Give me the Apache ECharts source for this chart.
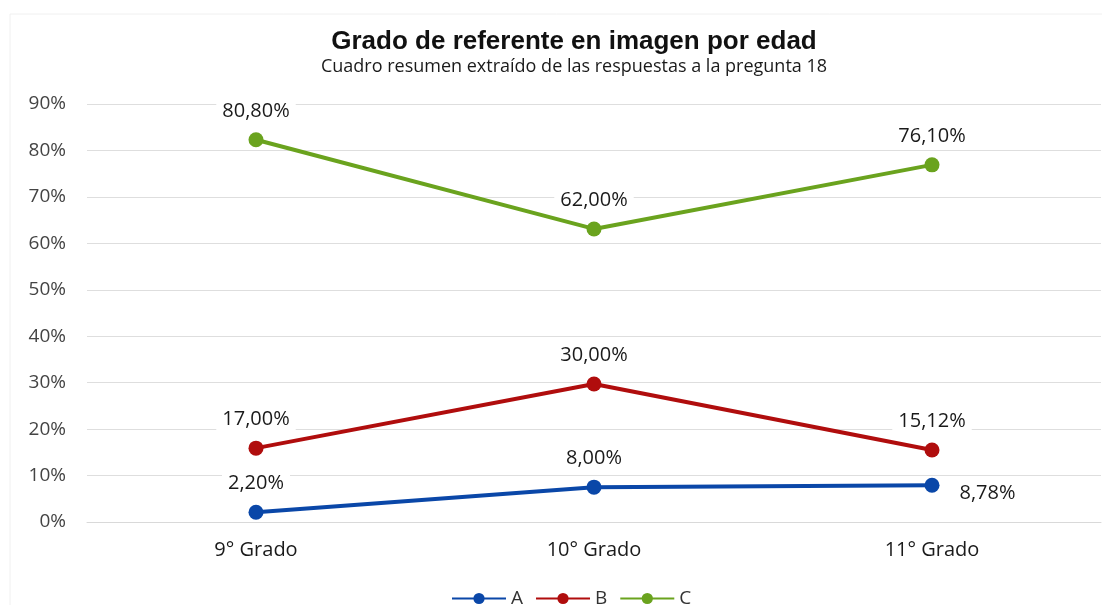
<!DOCTYPE html>
<html>
<head>
<meta charset="utf-8">
<title>Grado de referente en imagen por edad</title>
<script src="https://cdn.jsdelivr.net/npm/echarts@6/dist/echarts.min.js"></script>
<style>
  html, body { margin: 0; padding: 0; background: #fff; }
  #chart { width: 1102px; height: 605px; }
</style>
</head>
<body>
<div id="chart"></div>
<script>
// categorías y valores
const grados = ['9° Grado', '10° Grado', '11° Grado']
const serieA = [2.1, 7.5, 7.9]
const serieB = [15.9, 29.7, 15.5]
const serieC = [82.3, 63.1, 76.9]
// etiquetas tal como aparecen en la imagen
const etiquetasA = ['2,20%', '8,00%', '8,78%']
const etiquetasB = ['17,00%', '30,00%', '15,12%']
const etiquetasC = ['80,80%', '62,00%', '76,10%']
const yTicks = [0, 10, 20, 30, 40, 50, 60, 70, 80, 90]

const chart = echarts.init(document.getElementById('chart'))

const labelStyle = {
  show: true,
  position: 'top',
  distance: 10,
  fontFamily: 'Open Sans',
  fontSize: 20,
  color: '#1a1a1a',
  backgroundColor: '#fff',
  padding: [1, 6]
}

function makeSeries (name, color, values, labels, custom) {
  return {
    name: name,
    type: 'line',
    data: values.map((v, i) => {
      const item = { value: v }
      if (custom && custom[i]) item.label = custom[i]
      return item
    }),
    symbol: 'circle',
    symbolSize: 15,
    lineStyle: { color: color, width: 4 },
    itemStyle: { color: color },
    label: Object.assign({}, labelStyle, {
      formatter: p => labels[p.dataIndex]
    })
  }
}

chart.setOption({
  animation: false,
  graphic: [{
    type: 'rect',
    shape: { x: 10, y: 14, width: 1100, height: 600 },
    style: { fill: 'none', stroke: '#f0f0f0', lineWidth: 1 },
    silent: true
  }],
  title: {
    text: 'Grado de referente en imagen por edad',
    subtext: 'Cuadro resumen extraído de las respuestas a la pregunta 18',
    left: 569,
    textAlign: 'center',
    top: 24,
    itemGap: 3,
    textStyle: { fontFamily: 'Liberation Sans', fontSize: 26, fontWeight: 'bold', color: '#111' },
    subtextStyle: { fontFamily: 'Open Sans', fontSize: 18, color: '#1a1a1a' }
  },
  legend: {
    bottom: -8,
    left: 446,
    itemWidth: 54,
    itemHeight: 14,
    itemGap: 12,
    textStyle: { fontFamily: 'Open Sans', fontSize: 19, color: '#333' },
    data: ['A', 'B', 'C']
  },
  grid: { left: 87, right: 1, top: 104, bottom: 83 },
  xAxis: {
    type: 'category',
    data: grados,
    boundaryGap: true,
    axisLine: { lineStyle: { color: '#d9d9d9' } },
    axisTick: { show: false },
    axisLabel: { fontFamily: 'Open Sans', fontSize: 20, color: '#1a1a1a', margin: 18 }
  },
  yAxis: {
    type: 'value',
    min: yTicks[0],
    max: yTicks[yTicks.length - 1],
    interval: 10,
    axisLine: { show: false },
    axisTick: { show: false },
    splitLine: { lineStyle: { color: '#dedede', width: 1 } },
    axisLabel: { formatter: '{value}%', fontFamily: 'Open Sans', fontSize: 19, color: '#444', margin: 21 }
  },
  series: [
    makeSeries('A', '#0a47a8', serieA, etiquetasA, { 2: { position: 'right', offset: [4, 8] } }),
    makeSeries('B', '#b00d0d', serieB, etiquetasB),
    makeSeries('C', '#6aa31e', serieC, etiquetasC)
  ]
})
</script>
</body>
</html>
